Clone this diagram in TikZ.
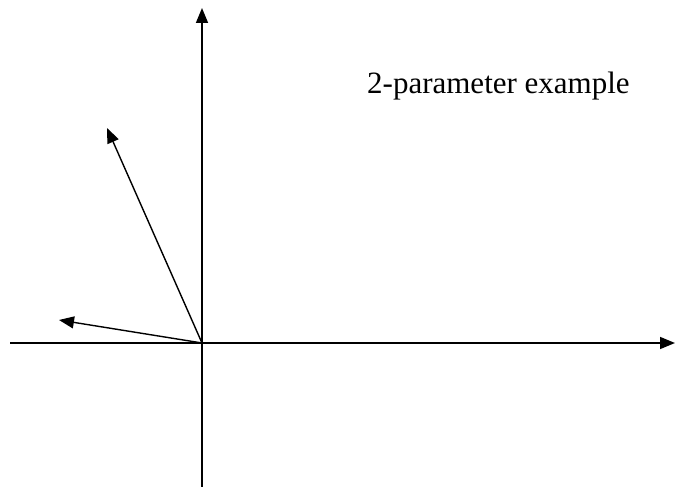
\documentclass[tikz,border=0pt]{standalone}
\usepackage{fontspec}
\setmainfont{Liberation Serif}
\usetikzlibrary{positioning,arrows.meta}
\tikzset{
    axis/.style={-{Triangle[length=15pt,width=12pt]}, line width=1.6pt},
    vec/.style={-{Triangle[length=15pt,width=12pt]}, line width=1.4pt},
    caption/.style={anchor=base west, inner sep=0pt, font=\fontsize{31}{36}\selectfont}
}
\begin{document}
\begin{tikzpicture}[x=1pt,y=1pt]
\useasboundingbox (0,0) rectangle (675,487);

% AXES
\coordinate (o) at (202,144);
\coordinate (ytop) at (202,479);
\coordinate (ybot) at (202,0);
\coordinate (xleft) at (10,144);
\coordinate (xright) at (675,144);

\draw[axis] (ybot) -- (ytop);
\draw[axis] (xleft) -- (xright);

% PARAMETER VECTORS
\coordinate (v1) at (107,359);
\coordinate (v2) at (59,167);

\draw[vec] (o) -- (v1);
\draw[vec] (o) -- (v2);

% LABEL
\node[caption] (label) at (367,393) {2-parameter example};

\end{tikzpicture}
\end{document}
